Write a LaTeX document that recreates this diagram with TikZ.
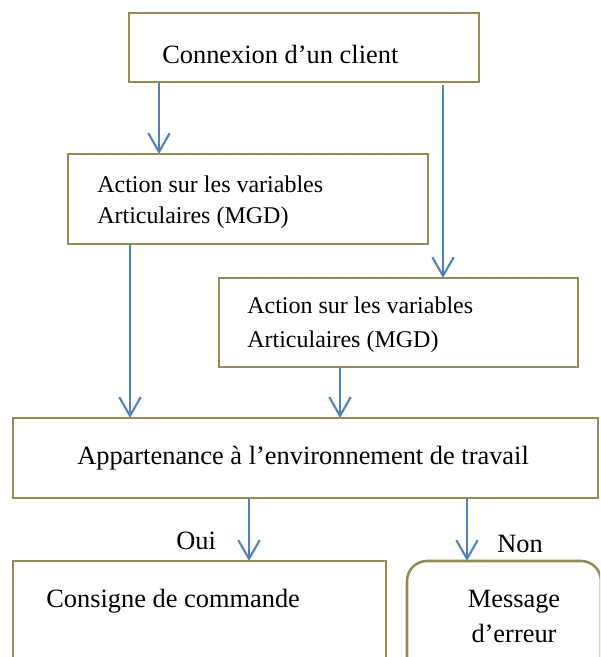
\documentclass[tikz,border=0pt]{standalone}
\usepackage{fontspec}
\setmainfont{Liberation Serif}
\usetikzlibrary{arrows.meta}
\definecolor{boxline}{RGB}{148,138,84}
\definecolor{arrowblue}{RGB}{79,129,189}
\begin{document}
\begin{tikzpicture}[x=0.75pt,y=-0.75pt,
  box/.style={draw=boxline, line width=1.9pt, fill=white, inner sep=0pt, outer sep=0pt, anchor=north west},
  arr/.style={draw=arrowblue, line width=1.6pt, -{Straight Barb[length=14pt,width=16pt,line width=1.6pt]}},
  big/.style={inner sep=0pt, font=\fontsize{19.8}{24}\selectfont},
  small/.style={inner sep=0pt, font=\fontsize{18}{22}\selectfont}]
\path[use as bounding box] (0,0) rectangle (600,657);
\clip (0,0) rectangle (600,657);
% boxes
\node[box, minimum width=262.5pt, minimum height=51.75pt] (b1) at (129,13) {};
\node[box, minimum width=270pt, minimum height=67.5pt] (b2) at (68,154) {};
\node[box, minimum width=269.25pt, minimum height=66.75pt] (b3) at (219,278) {};
\node[box, minimum width=438.75pt, minimum height=60pt] (b4) at (13,418) {};
\node[box, minimum width=279.75pt, minimum height=104.25pt] (b5) at (13,561) {};
\node[box, rounded corners=15pt, minimum width=145.5pt, minimum height=104.25pt] (b6) at (407,561) {};
% texts
\node[big, anchor=base west] (t1) at (162,63) {Connexion d’un client};
\node[small, anchor=base west] (t2a) at (97,192) {Action sur les variables};
\node[small, anchor=base west] (t2b) at (97,223) {Articulaires (MGD)};
\node[small, anchor=base west] (t3a) at (247,313) {Action sur les variables};
\node[small, anchor=base west] (t3b) at (247,347) {Articulaires (MGD)};
\node[big, anchor=base west] (t4) at (77,464) {Appartenance à l’environnement de travail};
\node[big, anchor=base west] (oui) at (176,549) {Oui};
\node[big, anchor=base west] (non) at (497,552) {Non};
\node[big, anchor=base west] (t5) at (46,607) {Consigne de commande};
\node[big, anchor=base] (t6a) at (514,607) {Message};
\node[big, anchor=base] (t6b) at (514,642) {d’erreur};
% arrow columns
\coordinate (xa) at (159,0);
\coordinate (xb) at (443,0);
\coordinate (xc) at (130,0);
\coordinate (xd) at (340,0);
\coordinate (xe) at (249,0);
\coordinate (xf) at (467,0);
% connectors
\draw[arr] (b1.south -| xa) -- (b2.north -| xa);
\draw[arr] ([yshift=-2pt]b1.south -| xb) -- (b3.north -| xb);
\draw[arr] (b2.south -| xc) -- (b4.north -| xc);
\draw[arr] (b3.south -| xd) -- (b4.north -| xd);
\draw[arr] (b4.south -| xe) -- (b5.north -| xe);
\draw[arr] (b4.south -| xf) -- (b6.north -| xf);
\end{tikzpicture}
\end{document}
